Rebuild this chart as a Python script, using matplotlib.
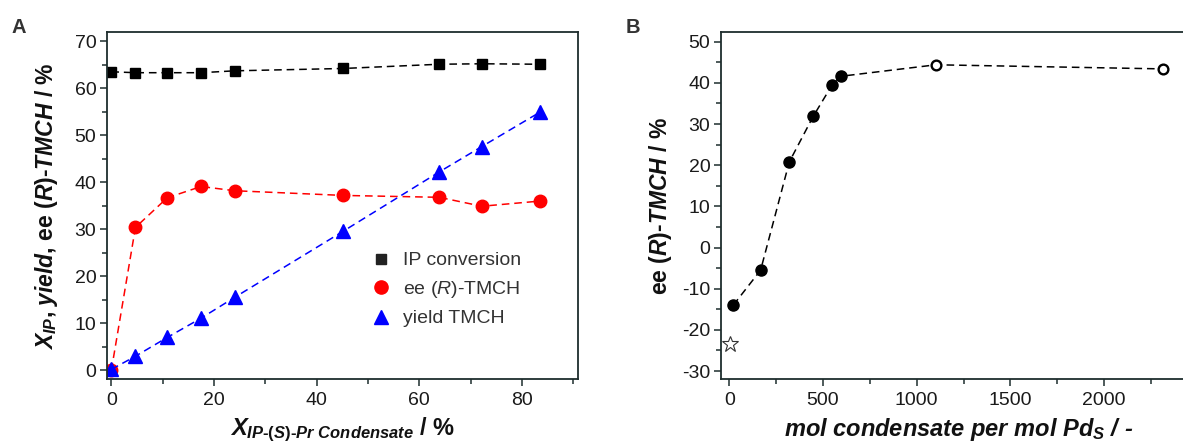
# two-panel chart: IP conversion / ee / yield vs condensate, and ee vs mol condensate per Pd
import matplotlib
matplotlib.use("Agg")
import matplotlib.pyplot as plt
from matplotlib.lines import Line2D
from matplotlib.ticker import MultipleLocator

plt.rcParams["font.family"] = ["Liberation Sans", "DejaVu Sans"]
plt.rcParams["axes.unicode_minus"] = False
plt.rcParams["mathtext.fontset"] = "custom"
plt.rcParams["mathtext.it"] = "Liberation Sans:italic:bold"
plt.rcParams["mathtext.rm"] = "Liberation Sans:bold"
plt.rcParams["mathtext.bf"] = "Liberation Sans:bold"
plt.rcParams["mathtext.sf"] = "Liberation Sans:italic"

# panel A data
x_cond = [0, 4.7, 10.9, 17.5, 24.0, 45.2, 63.9, 72.2, 83.5]
ip_conversion = [63.5, 63.3, 63.3, 63.3, 63.7, 64.2, 65.1, 65.2, 65.1]
ee_tmch = [0.0, 30.4, 36.7, 39.1, 38.2, 37.2, 36.8, 34.9, 36.0]
yield_tmch = [0.2, 3.0, 7.0, 11.1, 15.5, 29.6, 42.2, 47.6, 54.9]
legend_labels = ["IP conversion", r"ee ($\mathsf{R}$)-TMCH", "yield TMCH"]

# panel B data
mol_ratio = [21, 167, 320, 448, 550, 594, 1103, 2316]
ee_ratio = [-14.0, -5.5, 20.8, 31.9, 39.6, 41.6, 44.4, 43.4]
n_filled = 6
star_x = [4]
star_y = [-23.4]

spine_col = "#1e2d2d"
tick_col = "#1a1a1a"
dash = (5, 3.2)

fig = plt.figure(figsize=(11.83, 4.42), dpi=100)
axA = fig.add_axes([0.0902, 0.1419, 0.3987, 0.7851])
axB = fig.add_axes([0.6092, 0.1419, 0.4018, 0.7851])

for ax in (axA, axB):
    for s in ax.spines.values():
        s.set_color(spine_col)
        s.set_linewidth(1.3)
    ax.tick_params(which="both", direction="out", colors=spine_col, labelcolor=tick_col,
                   labelsize=14, top=False, right=False)
    ax.tick_params(which="major", length=5, width=1.1, pad=2.5)
    ax.tick_params(which="minor", length=3.5, width=1.1)
    ax.tick_params(axis="x", which="major", pad=4)

# ---- panel A
axA.plot(x_cond, ip_conversion, ls="--", dashes=dash, color="black", lw=1.1,
         marker="s", ms=7.5, mec="black", mfc="black")
axA.plot(x_cond, ee_tmch, ls="--", dashes=dash, color="#ff0000", lw=1.1,
         marker="o", ms=9, mec="#ff0000", mfc="#ff0000")
axA.plot(x_cond, yield_tmch, ls="--", dashes=dash, color="#0000ff", lw=1.1,
         marker="^", ms=9.5, mec="#0000ff", mfc="#0000ff")
axA.set_xlim(-0.9, 91)
axA.set_ylim(-1.9, 71.9)
axA.xaxis.set_major_locator(MultipleLocator(20))
axA.xaxis.set_minor_locator(MultipleLocator(10))
axA.yaxis.set_major_locator(MultipleLocator(10))
axA.yaxis.set_minor_locator(MultipleLocator(5))

handles = [
    Line2D([], [], ls="none", marker="s", ms=7, color="#222222"),
    Line2D([], [], ls="none", marker="o", ms=9.5, color="#ff0000"),
    Line2D([], [], ls="none", marker="^", ms=9.5, color="#0000ff"),
]
leg = axA.legend(handles, legend_labels, loc="upper left", bbox_to_anchor=(0.545, 0.39),
                 frameon=False, fontsize=14, handlelength=1.0, handletextpad=0.6,
                 labelspacing=0.5, borderaxespad=0)
for t in leg.get_texts():
    t.set_color("#333333")

axA.set_ylabel(r"$X_{IP}$, $yield$, ee ($R$)-$TMCH$ / %", fontsize=16.5,
               fontweight="bold", color="#111111")
axA.yaxis.set_label_coords(-0.1, 0.5)
axA.set_xlabel(r"$X_{IP\text{-}(S)\text{-}Pr\ Condensate}$ / %", fontsize=17,
               fontweight="bold", color="#111111")
axA.xaxis.set_label_coords(0.5, -0.105)

# ---- panel B
axB.plot(mol_ratio, ee_ratio, ls="--", dashes=dash, color="black", lw=1.1)
axB.plot(mol_ratio[:n_filled], ee_ratio[:n_filled], ls="none", marker="o", ms=8,
         mfc="black", mec="black")
axB.plot(mol_ratio[n_filled:], ee_ratio[n_filled:], ls="none", marker="o", ms=7,
         mfc="white", mec="black", mew=1.7)
axB.plot(star_x, star_y, ls="none", marker="*", ms=12, mfc="white", mec="#333333", mew=0.8)
axB.set_xlim(-46, 2490)
axB.set_ylim(-32, 52.3)
axB.xaxis.set_major_locator(MultipleLocator(500))
axB.xaxis.set_minor_locator(MultipleLocator(250))
axB.yaxis.set_major_locator(MultipleLocator(10))
axB.yaxis.set_minor_locator(MultipleLocator(5))
axB.spines["right"].set_visible(False)

axB.set_ylabel(r"ee ($R$)-$TMCH$ / %", fontsize=16.5, fontweight="bold", color="#111111")
axB.yaxis.set_label_coords(-0.098, 0.5)
axB.set_xlabel(r"mol condensate per mol Pd$_S$ / -", fontsize=17, fontweight="bold",
               fontstyle="italic", color="#111111")
axB.xaxis.set_label_coords(0.5, -0.105)

fig.text(11 / 1183, 1 - 33 / 442, "A", fontsize=14.5, fontweight="bold", color="#333333")
fig.text(626 / 1183, 1 - 33 / 442, "B", fontsize=14.5, fontweight="bold", color="#333333")

fig.savefig("out.png", dpi=100)
